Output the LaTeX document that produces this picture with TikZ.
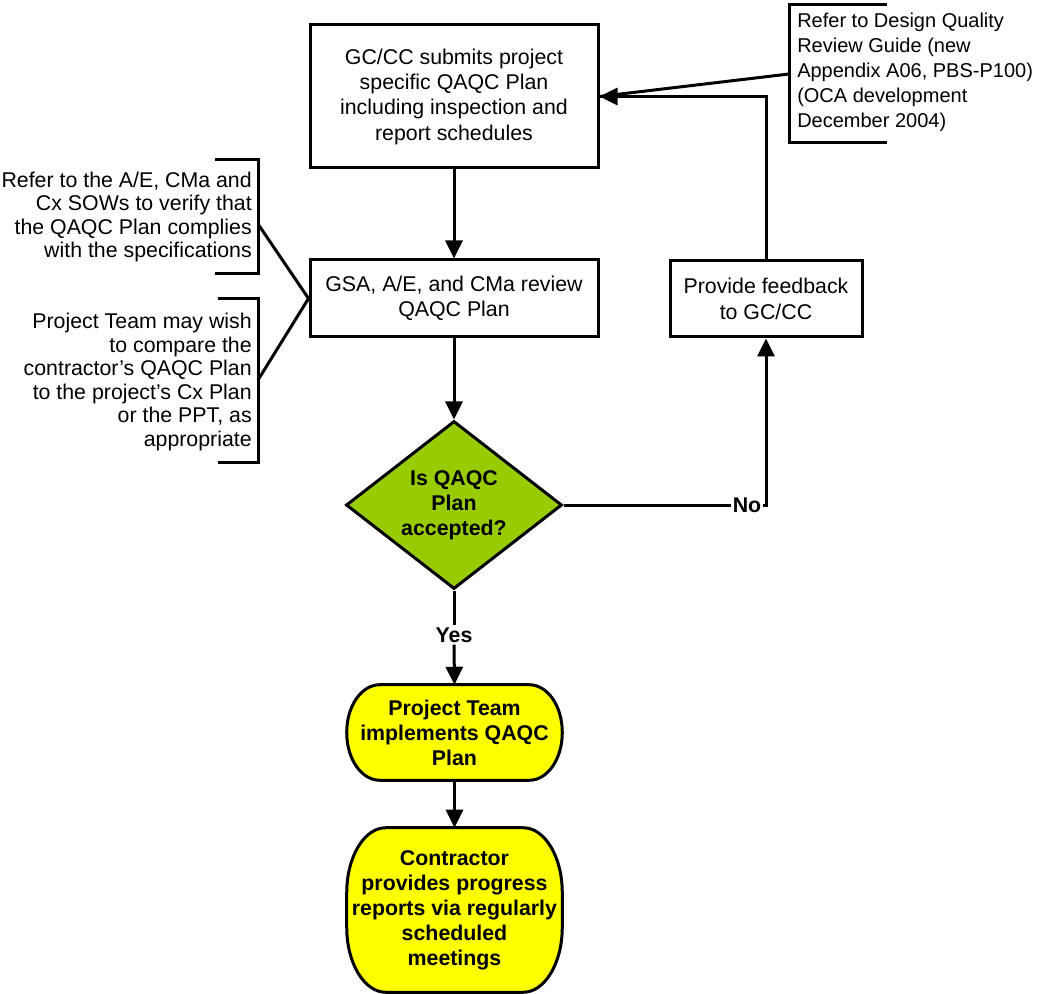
\documentclass[tikz,border=0pt]{standalone}
\usepackage{fontspec}
\setmainfont{Liberation Sans}
\usetikzlibrary{arrows.meta,shapes.geometric,backgrounds,calc}
\definecolor{dgreen}{HTML}{99CC00}
\definecolor{tyellow}{HTML}{FFFF00}
\newcommand\termshape[3]{%
 \draw[line width=2.25pt,fill=tyellow] ([xshift=#2]#1.north west) -- ([xshift=-#2]#1.north east)
 arc[start angle=90,end angle=0,x radius=#2,y radius=#3] -- ([yshift=#3]#1.south east)
 arc[start angle=0,end angle=-90,x radius=#2,y radius=#3] -- ([xshift=#2]#1.south west)
 arc[start angle=270,end angle=180,x radius=#2,y radius=#3] -- ([yshift=-#3]#1.north west)
 arc[start angle=180,end angle=90,x radius=#2,y radius=#3] -- cycle;}
\begin{document}
\begin{tikzpicture}[x=0.75pt,y=-0.75pt,
 every node/.style={font=\fontsize{16}{19}\selectfont},
 ln/.style={line width=2.25pt},
 arr/.style={line width=2.25pt,-{Triangle[length=13.5pt,width=12.75pt]}},
 box/.style={draw,line width=2.25pt,align=center,inner sep=0pt},
 bold/.style={font=\bfseries\fontsize{16}{18.75}\selectfont},
 lab/.style={bold,inner sep=1.5pt},
 note/.style={inner sep=0pt,font=\fontsize{16}{17.6}\selectfont}
]
\useasboundingbox (0,0) rectangle (1049,994);

\node[box,minimum width=216pt,minimum height=107.25pt] (b1) at (454,96.5) {GC/CC submits project\\specific QAQC Plan\\including inspection and\\report schedules};
\node[box,minimum width=216pt,minimum height=57.75pt] (b2) at (454,298.5) {GSA, A/E, and CMa review\\QAQC Plan};
\node[box,minimum width=144pt,minimum height=57pt] (fb) at (766,299) {Provide feedback\\to GC/CC};
\node[diamond,draw,fill=dgreen,line width=2.25pt,aspect=1.286,minimum width=162pt,minimum height=126pt,inner sep=0pt,align=center,bold] (d) at (454,505) {Is QAQC\\Plan\\accepted?};

\node[align=center,minimum width=161.25pt,minimum height=71.25pt,inner sep=0pt,bold] (y1) at (454.5,732.5) {Project Team\\implements QAQC\\Plan};
\node[align=center,minimum width=161.25pt,minimum height=123pt,inner sep=0pt,bold] (y2) at (454.5,910) {Contractor\\provides progress\\reports via regularly\\scheduled\\meetings};
\begin{pgfonlayer}{background}
\termshape{y1}{24.75pt}{35.6pt}
\termshape{y2}{29.25pt}{48.75pt}
\end{pgfonlayer}

\node[lab] (yes) at (454,635) {Yes};
\node[lab] (no) at (747,505) {No};

% connectors
\draw[arr] (b1.south) -- (b2.north);
\draw[arr] (b2.south) -- (d.north);
\draw[ln] (d.south) -- (yes.north);
\draw[arr] (yes.south) -- (y1.north);
\draw[arr] (y1.south) -- (y2.north);
\draw[ln] (d.east) -- (no.west);
\draw[arr] (no.east) -| (fb.south);
\draw[arr] (fb.north) |- (b1.east);

% top-right annotation
\draw[ln] (887,5) -- (789,5) -- (789,143) -- (887,143);
\node[note,align=left,anchor=west,font=\fontsize{15}{18.75}\selectfont] (ann) at (797,72) {Refer to Design Quality\\Review Guide (new\\Appendix A06, PBS-P100)\\(OCA development\\December 2004)};
\coordinate (ac) at (789,74);
\draw[ln] (ac) -- (b1.east);

% left annotations
\draw[ln] (215,160) -- (258,160) -- (258,274) -- (215,274);
\node[note,align=right,anchor=east] (n1) at (252,217) {Refer to the A/E, CMa and\\Cx SOWs to verify that\\the QAQC Plan complies\\with the specifications};
\draw[ln] (218,299) -- (258,299) -- (258,463) -- (218,463);
\node[note,align=right,anchor=east] (n2) at (252,382) {Project Team may wish\\to compare the\\contractor’s QAQC Plan\\to the project’s Cx Plan\\or the PPT, as\\appropriate};
\coordinate (c1) at (258,224);
\coordinate (c2) at (258,380);
\draw[ln] (c1) -- (b2.west);
\draw[ln] (c2) -- (b2.west);
\end{tikzpicture}
\end{document}
